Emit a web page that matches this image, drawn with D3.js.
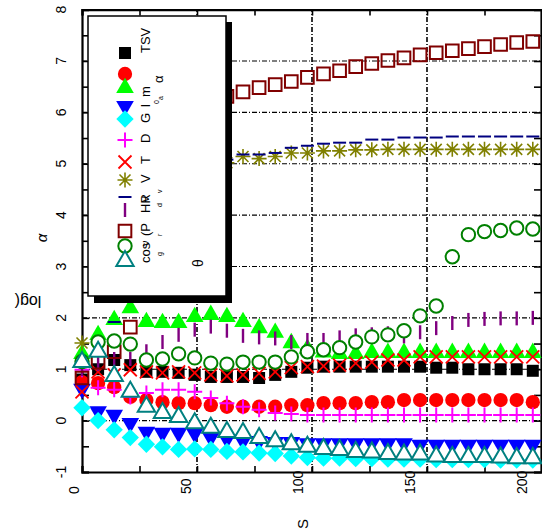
<!DOCTYPE html>
<html>
<head>
<meta charset="utf-8">
<script src="https://cdn.jsdelivr.net/npm/d3@7"></script>
<style>
  body { margin: 0; background: #fff; }
  svg { display: block; font-family: "Liberation Sans", Arial, sans-serif; }
</style>
</head>
<body>
<div id="chart"></div>
<script>
// x values (S)
const sValues = [0, 7, 14, 21, 28, 35, 42, 49, 56, 63, 70, 77, 84, 91, 98, 105, 112, 119, 126, 133, 140, 147, 154, 161, 168, 175, 182, 189, 196];

// series (log values)
const tsv   = [0.80, 1.00, 1.18, 1.08, 0.95, 0.95, 0.93, 0.89, 0.85, 0.85, 0.85, 0.83, 0.89, 0.95, 1.03, 1.05, 1.05, 1.05, 1.05, 1.05, 1.05, 1.05, 1.03, 1.03, 1.00, 1.00, 1.00, 1.00, 0.97];
const alpha = [0.75, 0.73, 0.65, 0.46, 0.40, 0.36, 0.34, 0.34, 0.30, 0.27, 0.27, 0.27, 0.27, 0.30, 0.30, 0.34, 0.34, 0.34, 0.36, 0.36, 0.40, 0.40, 0.40, 0.40, 0.40, 0.40, 0.40, 0.40, 0.36];
const ma    = [1.30, 1.67, 1.96, 2.19, 1.92, 1.90, 1.90, 2.02, 2.06, 2.02, 1.92, 1.80, 1.71, 1.51, 1.40, 1.33, 1.30, 1.30, 1.32, 1.32, 1.32, 1.32, 1.32, 1.32, 1.32, 1.32, 1.32, 1.32, 1.32];
const gl0   = [0.62, 0.18, 0.11, -0.05, -0.22, -0.24, -0.24, -0.25, -0.33, -0.36, -0.40, -0.40, -0.42, -0.42, -0.44, -0.44, -0.44, -0.44, -0.44, -0.44, -0.44, -0.47, -0.47, -0.47, -0.47, -0.47, -0.47, -0.47, -0.47];
const gVals = [0.25, 0.00, -0.18, -0.33, -0.46, -0.51, -0.56, -0.55, -0.56, -0.60, -0.61, -0.63, -0.64, -0.69, -0.72, -0.73, -0.73, -0.74, -0.74, -0.75, -0.75, -0.75, -0.76, -0.76, -0.76, -0.76, -0.77, -0.77, -0.77];
const dVals = [0.99, 0.64, 0.60, 0.46, 0.54, 0.60, 0.60, 0.56, 0.44, 0.34, 0.27, 0.21, 0.15, 0.13, 0.11, 0.11, 0.11, 0.11, 0.11, 0.11, 0.11, 0.11, 0.11, 0.11, 0.11, 0.11, 0.11, 0.11, 0.11];
const tVals = [0.56, 0.95, 0.89, 0.99, 0.95, 0.93, 0.95, 0.93, 0.89, 0.87, 0.89, 0.92, 0.95, 1.03, 1.05, 1.06, 1.08, 1.12, 1.14, 1.18, 1.18, 1.24, 1.24, 1.24, 1.24, 1.24, 1.24, 1.24, 1.24];
const vVals = [1.51, 2.60, 3.20, 3.70, 4.10, 4.40, 4.60, 4.80, 4.90, 5.02, 5.14, 5.10, 5.14, 5.21, 5.21, 5.25, 5.25, 5.27, 5.27, 5.28, 5.28, 5.28, 5.28, 5.28, 5.28, 5.28, 5.28, 5.28, 5.28];
const hrVals = [1.05, 1.57, 1.92, 2.60, 3.40, 4.00, 4.50, 4.80, 5.00, 5.08, 5.18, 5.18, 5.21, 5.31, 5.35, 5.39, 5.41, 5.41, 5.47, 5.47, 5.51, 5.51, 5.51, 5.53, 5.53, 5.53, 5.53, 5.53, 5.53];
const dvVals = [1.00, 1.10, 1.20, 1.20, 1.35, 1.53, 1.67, 1.77, 1.83, 1.75, 1.65, 1.62, 1.60, 1.53, 1.57, 1.57, 1.62, 1.66, 1.68, 1.70, 1.64, 1.72, 1.80, 1.90, 1.96, 1.98, 1.99, 1.99, 2.00];
const pVals = [0.83, 1.14, 1.34, 1.82, 2.70, 3.60, 4.40, 5.10, 5.80, 6.31, 6.40, 6.48, 6.54, 6.60, 6.68, 6.75, 6.81, 6.89, 6.95, 7.01, 7.06, 7.12, 7.16, 7.20, 7.24, 7.28, 7.32, 7.36, 7.38];
const cosVals = [1.15, 1.53, 1.55, 1.49, 1.18, 1.20, 1.30, 1.22, 1.12, 1.10, 1.14, 1.14, 1.14, 1.24, 1.34, 1.38, 1.42, 1.53, 1.63, 1.67, 1.75, 2.04, 2.23, 3.19, 3.62, 3.68, 3.70, 3.75, 3.73];
const grVals = [1.14, 1.34, 0.87, 0.56, 0.27, 0.15, 0.07, -0.05, -0.14, -0.22, -0.24, -0.34, -0.40, -0.46, -0.51, -0.55, -0.57, -0.61, -0.62, -0.65, -0.66, -0.66, -0.70, -0.71, -0.71, -0.71, -0.72, -0.73, -0.73];

const xTicks = [0, 50, 100, 150, 200];
const yTicks = [-1, 0, 1, 2, 3, 4, 5, 6, 7, 8];

// drawing styles, in legend order
const series = [
  { values: tsv,     shape: "square",   color: "#000000", fill: true },
  { values: alpha,   shape: "circle",   color: "#ff0000", fill: true },
  { values: ma,      shape: "triangle", color: "#00ff00", fill: true },
  { values: gl0,     shape: "down",     color: "#0000ff", fill: true },
  { values: gVals,   shape: "diamond",  color: "#00ffff", fill: true },
  { values: dVals,   shape: "plus",     color: "#ff00ff", width: 2 },
  { values: tVals,   shape: "cross",    color: "#ff0000", width: 1.8 },
  { values: vVals,   shape: "star",     color: "#808000", width: 1.6 },
  { values: hrVals,  shape: "dash",     color: "#000080", width: 2 },
  { values: dvVals,  shape: "bar",      color: "#800080", width: 2.4 },
  { values: pVals,   shape: "osquare",  color: "#800000", width: 2 },
  { values: cosVals, shape: "ocircle",  color: "#008000", width: 2 },
  { values: grVals,  shape: "otri",     color: "#008080", width: 2 }
];

function markPath(shape) {
  switch (shape) {
    case "square":   return d3.symbol(d3.symbolSquare, 144)();
    case "osquare":  return d3.symbol(d3.symbolSquare, 160)();
    case "circle":   return d3.symbol(d3.symbolCircle, 160)();
    case "ocircle":  return d3.symbol(d3.symbolCircle, 140)();
    case "triangle": return d3.symbol(d3.symbolTriangle, 135)();
    case "otri":     return d3.symbol(d3.symbolTriangle, 130)();
    case "down":     return d3.symbol(d3.symbolTriangle, 135)();
    case "diamond":  return d3.symbol(d3.symbolSquare, 150)();
    case "plus":     return "M-7.5,0H7.5M0,-7.5V7.5";
    case "cross":    return "M-6.5,-6.5L6.5,6.5M-6.5,6.5L6.5,-6.5";
    case "star":     return "M-7.5,0H7.5M0,-7.5V7.5M-5.5,-5.5L5.5,5.5M-5.5,5.5L5.5,-5.5";
    case "dash":     return "M-6.5,0H6.5";
    case "bar":      return "M0,-7V7";
  }
}
function markRotate(shape) {
  if (shape === "down") return " rotate(180)";
  if (shape === "diamond") return " rotate(45)";
  return "";
}
function styleMark(sel, s) {
  const filled = s.fill;
  const open = s.shape === "osquare" || s.shape === "ocircle" || s.shape === "otri";
  sel.attr("d", markPath(s.shape))
    .attr("fill", filled ? s.color : (open && s.shape !== "osquare" ? "#fff" : "none"))
    .attr("stroke", filled ? "none" : s.color)
    .attr("stroke-width", s.width || 0);
}

const width = 542, height = 531;
const margin = { top: 9, right: 0, bottom: 59, left: 82 };

const x = d3.scaleLinear().domain([0, 200]).range([margin.left, 542]);
const y = d3.scaleLinear().domain([-1, 8]).range([height - margin.bottom, margin.top + 0.6]);

const svg = d3.select("#chart").append("svg")
  .attr("width", width)
  .attr("height", height);

svg.append("rect").attr("width", width).attr("height", height).attr("fill", "#fff");

// grid
const grid = svg.append("g").attr("stroke", "#000").attr("stroke-width", 1.2).attr("stroke-dasharray", "5,2,1,2");
grid.selectAll(".hg").data(yTicks.filter(d => d > -1 && d < 8)).join("line")
  .attr("x1", x(0)).attr("x2", x(200))
  .attr("y1", d => y(d)).attr("y2", d => y(d));
grid.selectAll(".vg").data(xTicks.filter(d => d > 0 && d < 200)).join("line")
  .attr("stroke-width", 1.6)
  .attr("x1", d => x(d)).attr("x2", d => x(d))
  .attr("y1", y(-1)).attr("y2", y(8));

// axes (ticks pointing inward, every 0.5 and every 25)
const axLeft = d3.axisRight(y).tickValues(d3.range(-1, 8.01, 0.5)).tickSize(7).tickFormat("");
const axRight = d3.axisLeft(y).tickValues(d3.range(-1, 8.01, 0.5)).tickSize(7).tickFormat("");
const axBottom = d3.axisTop(x).tickValues(d3.range(0, 201, 25)).tickSize(6).tickFormat("");
const axTop = d3.axisBottom(x).tickValues(d3.range(0, 201, 25)).tickSize(6).tickFormat("");
[
  [axLeft, `translate(${x(0)},0)`],
  [axRight, `translate(${x(200) - 1},0)`],
  [axBottom, `translate(0,${y(-1)})`],
  [axTop, `translate(0,${y(8)})`]
].forEach(([ax, tr]) => {
  const g = svg.append("g").attr("transform", tr).call(ax);
  g.select(".domain").attr("stroke-width", 2.2);
  g.selectAll(".tick line").attr("stroke-width", 1.6);
});

// tick labels, rotated
svg.append("g").selectAll("text").data(yTicks).join("text")
  .attr("transform", d => `translate(66,${y(d)}) rotate(-90)`)
  .attr("text-anchor", "middle")
  .attr("font-size", 14)
  .text(d => d);
svg.append("g").selectAll("text").data(xTicks).join("text")
  .attr("transform", d => `translate(${x(d) - 3 - d * 0.06},494) rotate(-90)`)
  .attr("text-anchor", "start")
  .attr("font-size", 14)
  .text(d => d);

// axis titles
svg.append("text").attr("transform", "translate(28,296) rotate(180)")
  .attr("text-anchor", "middle").attr("font-size", 16).text("log(");
svg.append("text").attr("transform", "translate(47,238) rotate(-90)")
  .attr("text-anchor", "middle").attr("font-size", 15).attr("font-style", "italic").text("α");
svg.append("text").attr("transform", "translate(308,524) rotate(-90)")
  .attr("text-anchor", "middle").attr("font-size", 15).text("S");

// series
series.forEach(s => {
  svg.append("g").selectAll("path").data(s.values).join("path")
    .attr("transform", (d, i) => `translate(${x(sValues[i])},${y(d)})` + markRotate(s.shape))
    .call(sel => styleMark(sel, s));
});

// legend
const legendRows = [53, 74, 88, 106, 119, 140, 162, 180, 197, 210, 231, 246, 261];
const legendText = [
  { t: "TSV", x: 150, y: 53, fs: 13 },
  { t: "α", x: 163, y: 83, fs: 13 },
  { t: "m", x: 150, y: 97, fs: 13 },
  { t: "a", x: 163, y: 100, fs: 7 },
  { t: "l", x: 150, y: 107, fs: 13 },
  { t: "0", x: 159, y: 104, fs: 7 },
  { t: "G", x: 150, y: 123, fs: 13 },
  { t: "D", x: 150, y: 143, fs: 13 },
  { t: "T", x: 150, y: 164, fs: 13 },
  { t: "V", x: 150, y: 183, fs: 13 },
  { t: "HR", x: 150, y: 213, fs: 13 },
  { t: "ν", x: 149, y: 202, fs: 12 },
  { t: "v", x: 162, y: 193, fs: 7 },
  { t: "d", x: 162, y: 207, fs: 7 },
  { t: "(P", x: 150, y: 236, fs: 13 },
  { t: "cos", x: 150, y: 263, fs: 13 },
  { t: "ν", x: 149, y: 246, fs: 11 },
  { t: "r", x: 162, y: 236, fs: 7 },
  { t: "g", x: 162, y: 256, fs: 7 }
];

const legend = svg.append("g");
legend.append("rect").attr("x", 94).attr("y", 22).attr("width", 138).attr("height", 281).attr("fill", "#000");
legend.append("rect").attr("x", 88).attr("y", 16).attr("width", 138).attr("height", 280)
  .attr("fill", "#fff").attr("stroke", "#000").attr("stroke-width", 1.5);
series.forEach((s, i) => {
  legend.append("path")
    .attr("transform", `translate(125,${legendRows[i]})` + markRotate(s.shape))
    .call(sel => styleMark(sel, s));
});
legend.selectAll("text.lt").data(legendText).join("text")
  .attr("transform", d => `translate(${d.x},${d.y}) rotate(-90)`)
  .attr("font-size", d => d.fs)
  .text(d => d.t);
legend.append("text").attr("transform", "translate(203,263) rotate(-90)")
  .attr("text-anchor", "middle").attr("font-size", 14).text("θ");
</script>
</body>
</html>
